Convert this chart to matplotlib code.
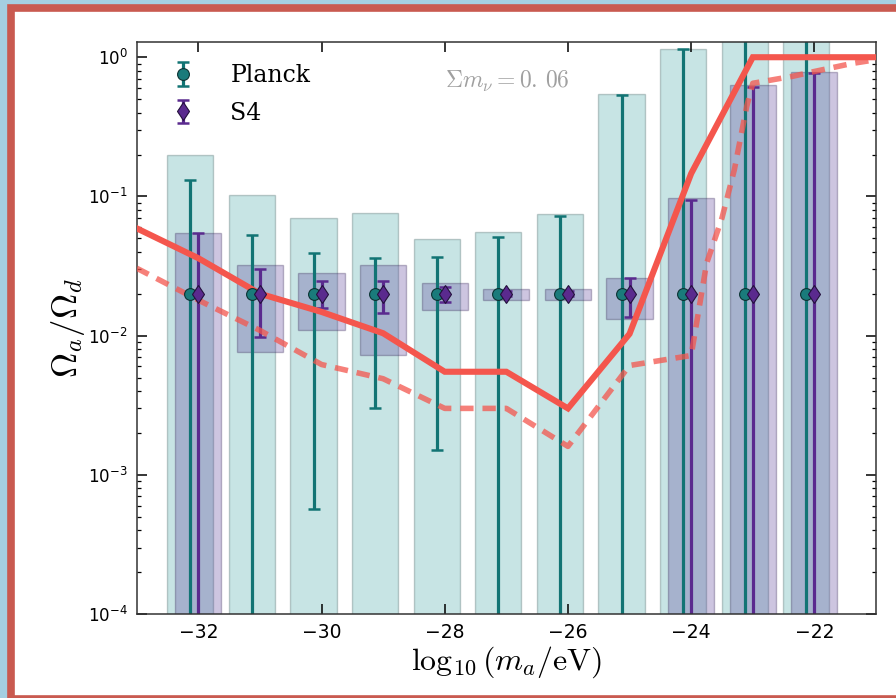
import matplotlib
matplotlib.use("Agg")
import matplotlib.pyplot as plt
from matplotlib.patches import Rectangle
from matplotlib.legend_handler import HandlerTuple
import numpy as np

plt.rcParams['mathtext.fontset'] = 'cm'

# axion mass bins, log10(m_a/eV)
masses = [-32, -31, -30, -29, -28, -27, -26, -25, -24, -23, -22]
fiducial = [0.02, 0.02, 0.02, 0.02, 0.02, 0.02, 0.02, 0.02, 0.02, 0.02, 0.02]

# Planck: filled band (upper limit) and error bar range
planck_top = [0.197, 0.102, 0.070, 0.0766, 0.0493, 0.0556, 0.0753, 0.542, 1.15, 3.0, 3.0]
planck_lo = [1e-6, 1e-6, 5.7e-4, 3.0e-3, 1.5e-3, 1e-6, 1e-6, 1e-6, 1e-6, 1e-6, 1e-6]
planck_hi = [0.131, 0.053, 0.039, 0.036, 0.037, 0.051, 0.072, 0.533, 1.14, 3.0, 3.0]

# S4 forecast: box and error bar range
s4_box_lo = [1e-6, 0.0076, 0.011, 0.0073, 0.0154, 0.0179, 0.018, 0.0132, 1e-6, 1e-6, 1e-6]
s4_box_hi = [0.055, 0.032, 0.0284, 0.0324, 0.024, 0.0218, 0.0218, 0.026, 0.097, 0.63, 0.78]
s4_lo = [1e-6, 0.0097, 0.0159, 0.0146, 0.0175, 0.0192, 0.0192, 0.0135, 1e-6, 1e-6, 1e-6]
s4_hi = [0.055, 0.030, 0.0245, 0.0245, 0.0222, 0.0208, 0.0208, 0.0259, 0.095, 0.61, 0.77]

# bounds curves
solid_x = [-33, -32, -31, -30, -29, -28, -27, -26, -25, -24, -23, -22, -21]
solid_y = [0.059, 0.036, 0.020, 0.0148, 0.0104, 0.0055, 0.0055, 0.0030, 0.0103, 0.146, 1.0, 1.0, 1.0]
dashed_x = [-33, -32, -31, -30, -29, -28, -27, -26, -25, -24, -23.75, -23.5, -23.3,
            -23.1, -23, -22.35, -22, -21.4, -21]
dashed_y = [0.0305, 0.018, 0.0109, 0.0062, 0.0049, 0.0030, 0.0030, 0.0016, 0.0061, 0.0072,
            0.033, 0.07, 0.155, 0.44, 0.65, 0.73, 0.79, 0.90, 0.96]

teal = '#127474'
purple = '#5a2a8e'
red = '#f4564d'
shift = 0.13
width = 0.75

fig = plt.figure(figsize=(8.96, 6.98), dpi=100)
fig.patch.set_facecolor('#a5cfe1')
# slide frame
fig.add_artist(Rectangle((11/896, -0.5/698), 1.2, 1 - 7/698, transform=fig.transFigure,
                         facecolor='white', edgecolor='#c95a50', lw=5.5, zorder=0))

ax = fig.add_axes([136.7/896, 1 - 614/698, 739.3/896, 571.7/698])
ax.set_yscale('log')

m = np.array(masses, dtype=float)
fid = np.array(fiducial)

p_top = np.array(planck_top)
ax.bar(m - shift, p_top - 1e-6, bottom=1e-6, width=width, color='#2a9a9a', alpha=0.26,
       edgecolor='#204040', lw=1, zorder=1)
b_lo = np.array(s4_box_lo)
b_hi = np.array(s4_box_hi)
ax.bar(m, b_hi - b_lo, bottom=b_lo, width=width, color='#5a3f9a', alpha=0.3,
       edgecolor='#302050', lw=1, zorder=1.1)

p_err = [fid - np.array(planck_lo), np.array(planck_hi) - fid]
s_err = [fid - np.array(s4_lo), np.array(s4_hi) - fid]
eb_p = ax.errorbar(m - shift, fid, yerr=p_err, fmt='none', ecolor=teal, elinewidth=2.3,
                   capsize=4, capthick=1.8, zorder=2)
eb_s = ax.errorbar(m, fid, yerr=s_err, fmt='none', ecolor=purple, elinewidth=2.3,
                   capsize=4, capthick=1.8, zorder=2)

ax.plot(solid_x, solid_y, color=red, lw=4.4, zorder=3, solid_joinstyle='miter')
ax.plot(dashed_x, dashed_y, color=red, alpha=0.75, lw=4.0, ls=(0, (2.4, 1.6)), zorder=3)

mk_p, = ax.plot(m - shift, fid, 'o', ms=8.5, mfc='#1a7b7b', mec='#0b3333', mew=0.8, zorder=4)
mk_s, = ax.plot(m, fid, 'd', ms=9.5, mfc=purple, mec='#24103c', mew=0.8, zorder=4)

ax.text(-28, 0.67, r'$\Sigma m_\nu = 0.\,06$', color='#a0a0a0', fontsize=17,
        ha='left', va='center')

ax.legend([(eb_p, mk_p), (eb_s, mk_s)], ['Planck', 'S4'],
          handler_map={tuple: HandlerTuple(ndivide=1)},
          loc='upper left', bbox_to_anchor=(0.047, 0.962), borderaxespad=0, borderpad=0,
          frameon=False, handlelength=1.0, handletextpad=1.5, labelspacing=0.62,
          prop={'family': 'DejaVu Serif', 'size': 17})

ax.set_xlim(-33, -21)
ax.set_ylim(1e-4, 1.28)
ax.set_xticks([-32, -30, -28, -26, -24, -22])
ax.tick_params(which='both', direction='in', top=True, right=True, pad=6.5)
ax.tick_params(axis='x', labelsize=13.5)
ax.tick_params(axis='y', labelsize=12)
ax.tick_params(which='major', length=7, width=1.1)
ax.tick_params(which='minor', length=3, width=0.9)
for s in ax.spines.values():
    s.set_linewidth(1.1)
    s.set_color('#333333')

ax.set_xlabel(r'$\log_{10}(m_a/\mathrm{eV})$', fontsize=23, labelpad=2)
ax.set_ylabel(r'$\Omega_a/\Omega_d$', fontsize=25, labelpad=1)

fig.savefig('out.png', dpi=100, facecolor=fig.get_facecolor())
